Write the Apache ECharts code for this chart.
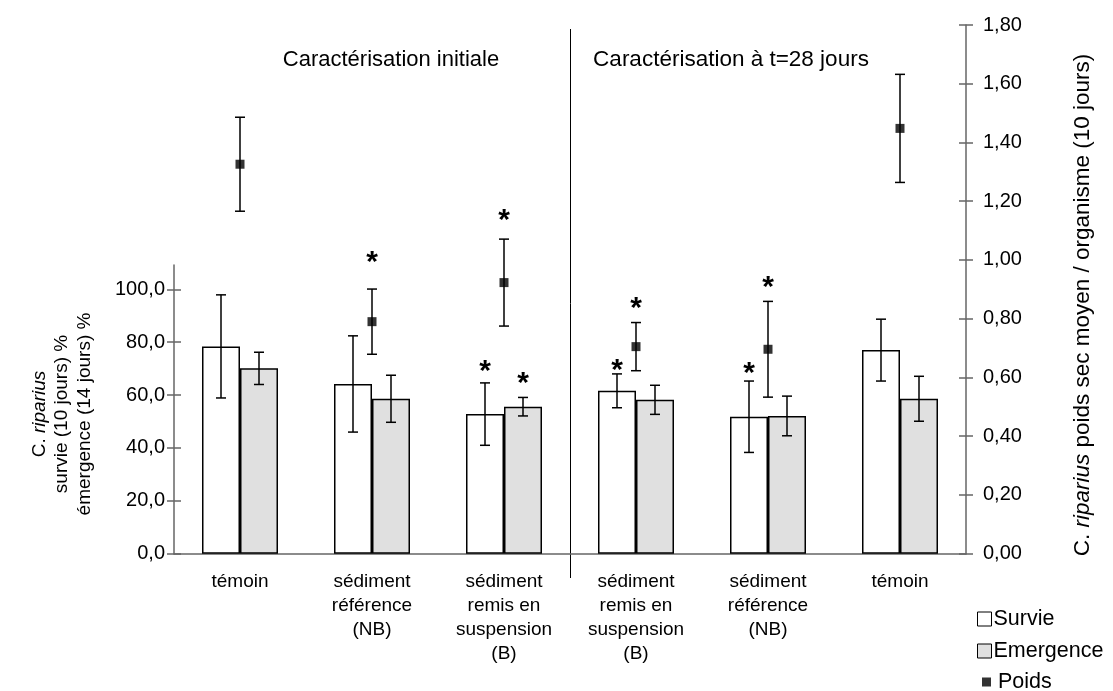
<!DOCTYPE html>
<html>
<head>
<meta charset="utf-8">
<script src="https://cdn.jsdelivr.net/npm/echarts@6/dist/echarts.min.js"></script>
<style>
  html, body { margin: 0; padding: 0; background: #fff; }
  #chart { width: 1113px; height: 691px; }
</style>
</head>
<body>
<div id="chart"></div>
<script>
// données
const categories = ['témoin', 'sédiment\nréférence\n(NB)', 'sédiment\nremis en\nsuspension\n(B)',
  'sédiment\nremis en\nsuspension\n(B)', 'sédiment\nréférence\n(NB)', 'témoin'];
const survie = [78.4, 64.2, 52.8, 61.6, 51.8, 77.0];
const survieErr = [19.5, 18.2, 11.8, 6.4, 13.5, 11.7];
const emergence = [70.1, 58.6, 55.6, 58.2, 52.1, 58.6];
const emergenceErr = [6.1, 8.9, 3.5, 5.5, 7.5, 8.5];
const poids = [1.326, 0.79, 0.923, 0.705, 0.696, 1.448];
const poidsErr = [0.16, 0.111, 0.148, 0.082, 0.163, 0.184];
// niveau des astérisques (différence significative)
const starSurvie = [null, null, 71.3, 72.0, 70.7, null];
const starEmergence = [null, null, 66.9, null, null, null];
const starPoids = [null, 1.016, 1.158, 0.857, 0.931, null];
const groupTitles = ['Caractérisation initiale', 'Caractérisation à t=28 jours'];

const FONT = 'Liberation Sans, Arial, sans-serif';
const AXIS = '#666';
const BAR_W = 38;
const CAP = 10;

const chart = echarts.init(document.getElementById('chart'));

// barres d'erreur (custom)
const errorBars = (values, errs, offset) => (params, api) => {
  const i = api.value(0);
  const top = api.coord([i, values[i] + errs[i]]);
  const bot = api.coord([i, values[i] - errs[i]]);
  const x = top[0] + offset;
  const st = { stroke: '#000', lineWidth: 1.5 };
  return {
    type: 'group',
    children: [
      { type: 'line', shape: { x1: x, y1: top[1], x2: x, y2: bot[1] }, style: st },
      { type: 'line', shape: { x1: x - CAP / 2, y1: top[1], x2: x + CAP / 2, y2: top[1] }, style: st },
      { type: 'line', shape: { x1: x - CAP / 2, y1: bot[1], x2: x + CAP / 2, y2: bot[1] }, style: st }
    ]
  };
};

// astérisques
const stars = (offset) => (params, api) => {
  const p = api.coord([api.value(0), api.value(1)]);
  return {
    type: 'text',
    x: p[0] + offset, y: p[1] + 7,
    style: { text: '*', fontSize: 30, fontWeight: 'bold', fontFamily: FONT, fill: '#000', align: 'center', verticalAlign: 'middle' }
  };
};
const starData = arr => arr.map((s, i) => s == null ? null : [i, s]).filter(d => d);

const idx = categories.map((c, i) => [i]);
const fmt1 = v => v.toFixed(1).replace('.', ',');
const fmt2 = v => v.toFixed(2).replace('.', ',');

const grid = { left: 174, right: 147, bottom: 137.3 };
const tickStyle = { color: AXIS, width: 1.5 };

const option = {
  backgroundColor: '#fff',
  animation: false,
  textStyle: { fontFamily: FONT, color: '#000' },
  grid: [
    Object.assign({ top: 289.3 }, grid),   // barres
    Object.assign({ top: 265 }, grid),     // prolongement de l'axe gauche
    Object.assign({ top: 25 }, grid)       // poids
  ],
  xAxis: [
    {
      type: 'category', gridIndex: 0, position: 'bottom', data: categories,
      axisLine: { lineStyle: tickStyle },
      axisTick: { length: 6, lineStyle: tickStyle },
      axisLabel: { interval: 0, margin: 16, fontSize: 19, lineHeight: 24, color: '#000', fontFamily: FONT }
    },
    {
      type: 'category', gridIndex: 0, position: 'bottom', data: categories,
      axisLine: { show: false }, axisLabel: { show: false },
      axisTick: { inside: true, length: 6, lineStyle: tickStyle }
    },
    { type: 'category', gridIndex: 1, data: categories, show: false },
    { type: 'category', gridIndex: 2, data: categories, show: false }
  ],
  yAxis: [
    {
      type: 'value', gridIndex: 0, position: 'left', min: 0, max: 100, interval: 20,
      axisLine: { show: false }, splitLine: { show: false },
      axisTick: { show: true, length: 7, lineStyle: tickStyle },
      axisLabel: { formatter: fmt1, fontSize: 20, margin: 9, color: '#000', fontFamily: FONT }
    },
    {
      type: 'value', gridIndex: 0, position: 'left', min: 0, max: 100, interval: 20,
      axisLine: { show: false }, splitLine: { show: false }, axisLabel: { show: false },
      axisTick: { show: true, inside: true, length: 7, lineStyle: tickStyle }
    },
    {
      type: 'value', gridIndex: 1, position: 'left', min: 0, max: 1,
      axisLine: { show: true, lineStyle: tickStyle },
      axisTick: { show: false }, axisLabel: { show: false }, splitLine: { show: false }
    },
    {
      type: 'value', gridIndex: 2, position: 'right', min: 0, max: 1.8, interval: 0.2,
      axisLine: { show: true, lineStyle: tickStyle }, splitLine: { show: false },
      axisTick: { show: true, length: 7, lineStyle: tickStyle },
      axisLabel: { formatter: fmt2, fontSize: 20, margin: 17, color: '#000', fontFamily: FONT }
    },
    {
      type: 'value', gridIndex: 2, position: 'right', min: 0, max: 1.8, interval: 0.2,
      axisLine: { show: false }, splitLine: { show: false }, axisLabel: { show: false },
      axisTick: { show: true, inside: true, length: 7, lineStyle: tickStyle }
    }
  ],
  legend: [
    {
      data: ['Survie', 'Emergence'], orient: 'vertical', left: 977, top: 608, padding: 0,
      icon: 'rect', itemWidth: 14, itemHeight: 14, itemGap: 10,
      textStyle: { fontSize: 21.5, fontFamily: FONT, color: '#000', padding: [0, 0, 0, -3] },
      itemStyle: { borderColor: '#000', borderWidth: 1 }
    },
    {
      data: ['Poids'], orient: 'vertical', left: 982, top: 671, padding: 0,
      icon: 'rect', itemWidth: 9, itemHeight: 9,
      textStyle: { fontSize: 21.5, fontFamily: FONT, color: '#000', padding: [0, 0, 0, 2] }
    }
  ],
  series: [
    {
      name: 'Survie', type: 'bar', xAxisIndex: 0, yAxisIndex: 0, data: survie,
      barWidth: BAR_W, barGap: '0%',
      itemStyle: { color: '#fff', borderColor: '#000', borderWidth: 1.5 }
    },
    {
      name: 'Emergence', type: 'bar', xAxisIndex: 0, yAxisIndex: 0, data: emergence,
      barWidth: BAR_W, barGap: '0%',
      itemStyle: { color: '#e0e0e0', borderColor: '#000', borderWidth: 1.5 }
    },
    {
      type: 'custom', xAxisIndex: 0, yAxisIndex: 0, data: idx, z: 5, clip: false,
      renderItem: errorBars(survie, survieErr, -BAR_W / 2)
    },
    {
      type: 'custom', xAxisIndex: 0, yAxisIndex: 0, data: idx, z: 5, clip: false,
      renderItem: errorBars(emergence, emergenceErr, BAR_W / 2)
    },
    {
      type: 'custom', xAxisIndex: 3, yAxisIndex: 3, data: idx, z: 5, clip: false,
      renderItem: errorBars(poids, poidsErr, 0)
    },
    {
      name: 'Poids', type: 'scatter', xAxisIndex: 3, yAxisIndex: 3, data: poids,
      symbol: 'rect', symbolSize: 9, itemStyle: { color: '#000' }, z: 6
    },
    {
      type: 'custom', xAxisIndex: 0, yAxisIndex: 0, data: starData(starSurvie), z: 6, clip: false,
      renderItem: stars(-BAR_W / 2)
    },
    {
      type: 'custom', xAxisIndex: 0, yAxisIndex: 0, data: starData(starEmergence), z: 6, clip: false,
      renderItem: stars(BAR_W / 2)
    },
    {
      type: 'custom', xAxisIndex: 3, yAxisIndex: 3, data: starData(starPoids), z: 6, clip: false,
      renderItem: stars(0)
    }
  ]
};

chart.setOption(option);

// ligne de séparation entre les deux campagnes + titres
const x2 = chart.convertToPixel({ xAxisIndex: 0 }, 2);
const x3 = chart.convertToPixel({ xAxisIndex: 0 }, 3);
const sepX = Math.round((x2 + x3) / 2) + 0.5;
const rot = (x, y, parts, size) => ({
  type: 'text', x: x, y: y, rotation: Math.PI / 2,
  style: {
    text: parts, fontSize: size, fontFamily: FONT, fill: '#000', align: 'center', verticalAlign: 'middle',
    rich: { i: { fontStyle: 'italic', fontSize: size, fontFamily: FONT } }
  }
});
chart.setOption({
  graphic: [
    { type: 'line', shape: { x1: sepX, y1: 29, x2: sepX, y2: 578 }, style: { stroke: '#000', lineWidth: 1 } },
    { type: 'text', x: 391, y: 60, style: { text: groupTitles[0], fontSize: 22, fontFamily: FONT, fill: '#000', align: 'center', verticalAlign: 'middle' } },
    { type: 'text', x: 731, y: 60, style: { text: groupTitles[1], fontSize: 22.5, fontFamily: FONT, fill: '#000', align: 'center', verticalAlign: 'middle' } },
    rot(40, 414, 'C. {i|riparius}', 19),
    rot(62, 414, 'survie (10 jours) %', 19),
    rot(85, 414, 'émergence (14 jours) %', 19),
    rot(1083, 305, 'C. {i|riparius} poids sec moyen / organisme (10 jours)', 22.5)
  ]
});
</script>
</body>
</html>
